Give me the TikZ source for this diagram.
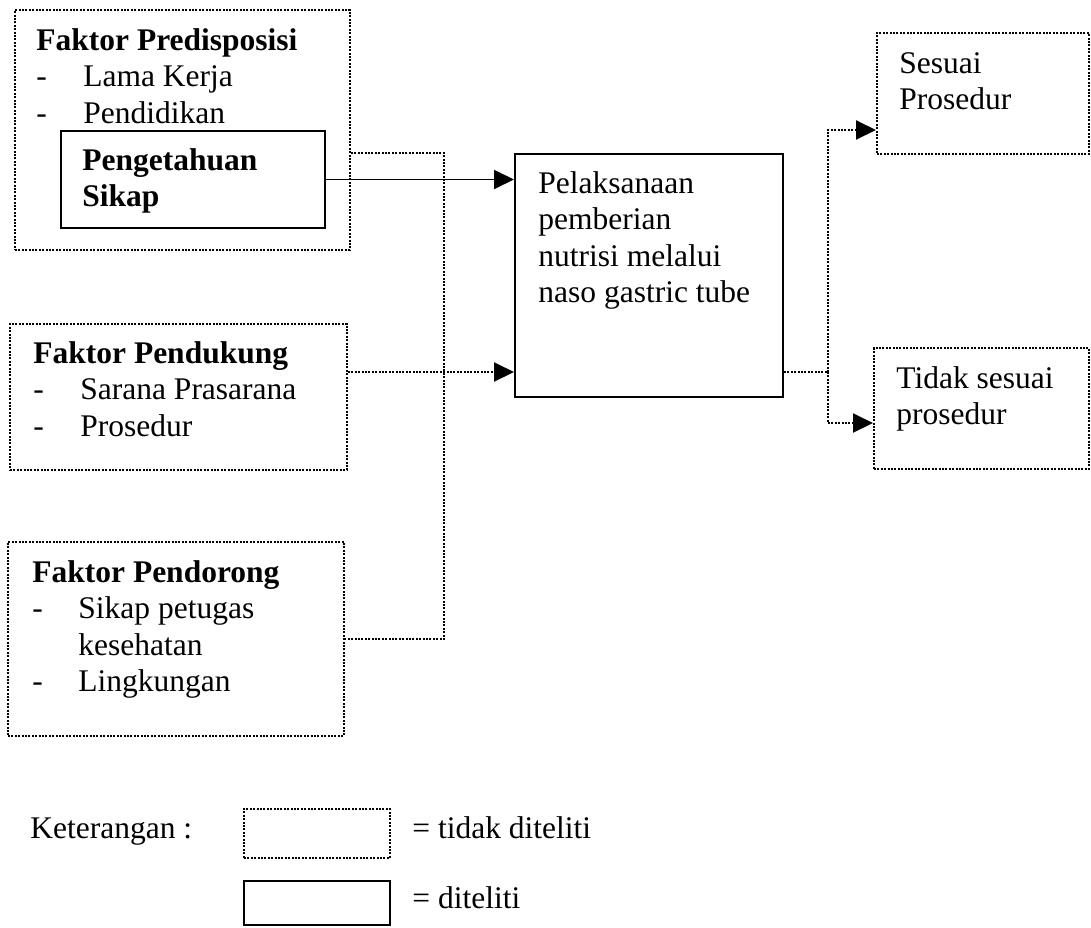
\documentclass[tikz,border=0pt]{standalone}
\usepackage{fontspec}
\setmainfont{Liberation Serif}
\usetikzlibrary{arrows.meta}

\tikzset{
  kotak titik/.style={draw, line width=1pt, dash pattern=on 1pt off 0.7pt, inner sep=0pt},
  kotak tegas/.style={draw, line width=1pt, inner sep=0pt},
  teks/.style={anchor=base west, inner sep=0pt},
  garis titik/.style={line width=1pt, dash pattern=on 1pt off 0.7pt},
  panah titik/.style={garis titik, -{Triangle[length=10pt,width=9.5pt]}},
  panah tegas/.style={line width=0.9pt, -{Triangle[length=10pt,width=9.5pt]}}
}

\begin{document}
\begin{tikzpicture}[x=0.5pt, y=-0.5pt, font=\fontsize{15.75}{18.3}\selectfont]
  \useasboundingbox (0,0) rectangle (1091,927);

  % kotak faktor
  \node[kotak titik, minimum width=167.5pt, minimum height=120pt] (predisposisi) at (182.5,130) {};
  \node[kotak tegas, minimum width=132pt, minimum height=48.5pt] (pengetahuan) at (193,179.5) {};
  \node[kotak titik, minimum width=168.5pt, minimum height=73pt] (pendukung) at (178.5,397) {};
  \node[kotak titik, minimum width=168pt, minimum height=97pt] (pendorong) at (176,639) {};

  % kotak hasil
  \node[kotak tegas, minimum width=134pt, minimum height=121.5pt] (pelaksanaan) at (649,275.5) {};
  \node[kotak titik, minimum width=106pt, minimum height=60.5pt] (sesuai) at (983,93.5) {};
  \node[kotak titik, minimum width=107.5pt, minimum height=60.5pt] (tidak) at (981.5,408.5) {};

  % teks
  \node[teks] (tpredisposisi) at (36,50) {\begin{tabular}[t]{@{}p{23.5pt}@{}l@{}}
    \multicolumn{2}{@{}l@{}}{\textbf{Faktor Predisposisi}}\\
    - & Lama Kerja\\
    - & Pendidikan
  \end{tabular}};
  \node[teks] (tpengetahuan) at (82,170) {\begin{tabular}[t]{@{}l@{}}
    \textbf{Pengetahuan}\\
    \textbf{Sikap}
  \end{tabular}};
  \node[teks] (tpendukung) at (33,363) {\begin{tabular}[t]{@{}p{23.5pt}@{}l@{}}
    \multicolumn{2}{@{}l@{}}{\textbf{Faktor Pendukung}}\\
    - & Sarana Prasarana\\
    - & Prosedur
  \end{tabular}};
  \node[teks] (tpendorong) at (32,582) {\begin{tabular}[t]{@{}p{23pt}@{}l@{}}
    \multicolumn{2}{@{}l@{}}{\textbf{Faktor Pendorong}}\\
    - & Sikap petugas\\
      & kesehatan\\
    - & Lingkungan
  \end{tabular}};
  \node[teks] (tpelaksanaan) at (538,193) {\begin{tabular}[t]{@{}l@{}}
    Pelaksanaan\\
    pemberian\\
    nutrisi melalui\\
    naso gastric tube
  \end{tabular}};
  \node[teks] (tsesuai) at (899,73) {\begin{tabular}[t]{@{}l@{}}
    Sesuai\\
    Prosedur
  \end{tabular}};
  \node[teks] (ttidak) at (896,388) {\begin{tabular}[t]{@{}l@{}}
    Tidak sesuai\\
    prosedur
  \end{tabular}};

  % titik belok
  \coordinate (jalur) at (444,639);
  \coordinate (cabang) at (828,372);
  \coordinate (atas) at (828,130);
  \coordinate (bawah) at (828,423);

  % penghubung
  \draw[panah tegas] (pengetahuan.east) -- (pengetahuan.east -| pelaksanaan.west);
  \draw[garis titik] (predisposisi.east |- pelaksanaan.north) -| (jalur) -- (pendorong.east);
  \draw[panah titik] (pendukung.east |- cabang) -- (pelaksanaan.west |- cabang);
  \draw[garis titik] (pelaksanaan.east |- cabang) -- (cabang);
  \draw[panah titik] (cabang) |- (atas -| sesuai.west);
  \draw[panah titik] (cabang) |- (bawah -| tidak.west);

  % keterangan
  \node[teks] (keterangan) at (30,838) {Keterangan :};
  \node[kotak titik, minimum width=73pt, minimum height=24.5pt] (contohtitik) at (317,833.5) {};
  \node[teks] (ttitik) at (412,838) {= tidak diteliti};
  \node[kotak tegas, minimum width=73pt, minimum height=22pt] (contohtegas) at (317,903) {};
  \node[teks] (ttegas) at (412,908) {= diteliti};
\end{tikzpicture}
\end{document}
